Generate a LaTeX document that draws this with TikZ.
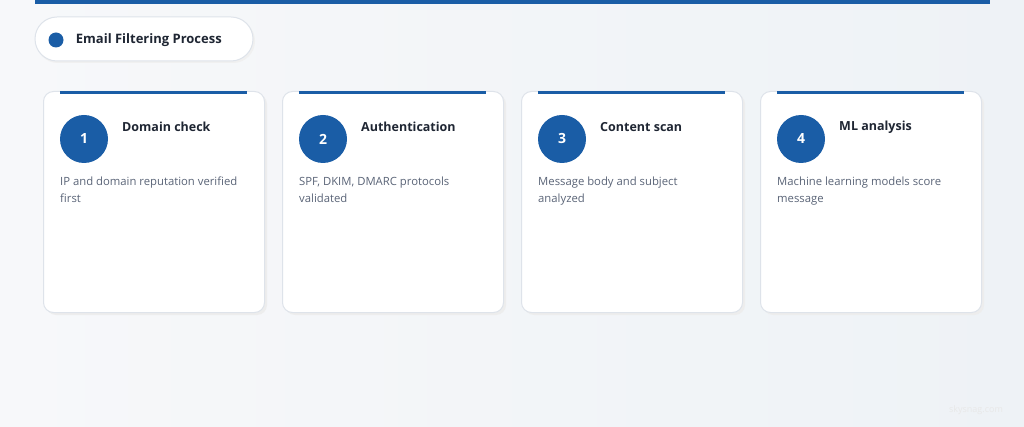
\documentclass[tikz,border=0pt]{standalone}
\usepackage{fontspec}
\setmainfont{Open Sans}
\usetikzlibrary{positioning,calc}

\definecolor{bluemain}{HTML}{1A5DA6}
\definecolor{darktext}{HTML}{1F2633}
\definecolor{greytext}{HTML}{5A6477}
\definecolor{cardline}{HTML}{DEE3EA}
\definecolor{bgleft}{HTML}{F7F8FA}
\definecolor{bgright}{HTML}{EEF2F6}

\tikzset{
  card/.style={draw=cardline, line width=1pt, fill=white, rounded corners=10pt,
    minimum width=221pt, minimum height=221pt, anchor=north west, inner sep=0pt},
  cardshadow/.style={fill=black!7, rounded corners=10pt},
  stepnum/.style={circle, fill=bluemain, minimum size=48pt, inner sep=0pt,
    text=white, font=\bfseries\fontsize{14pt}{16pt}\selectfont},
  stephead/.style={anchor=west, text=darktext, inner sep=0pt,
    font=\bfseries\fontsize{12.5pt}{15pt}\selectfont},
  stepdesc/.style={anchor=north west, align=left, text=greytext, inner sep=0pt,
    font=\fontsize{11.3pt}{16.5pt}\selectfont}
}

\begin{document}
\begin{tikzpicture}[x=1pt,y=-1pt]
    % Background
    \shade[left color=bgleft, right color=bgright] (0,0) rectangle (1024,427);
    \useasboundingbox (0,0) rectangle (1024,427);

    % Top bar
    \fill[bluemain] (35,0) rectangle (990,4);

    % Title pill
    \fill[black!6, rounded corners=22pt] (36,19) rectangle (255,63);
    \node[draw=cardline, line width=1pt, fill=white, rounded corners=22pt,
      minimum width=218pt, minimum height=44pt, inner sep=0pt] (title) at (144,39) {};
    \node[circle, fill=bluemain, minimum size=15pt, inner sep=0pt] (dot) at (56,40) {};
    \node[anchor=west, text=darktext, inner sep=0pt,
      font=\bfseries\fontsize{13pt}{16pt}\selectfont, right=12pt of dot] (titletext) {Email Filtering Process};

    % Step cards
    \foreach \i/\head/\desc in {
        1/Domain check/{IP and domain reputation verified\\first},
        2/Authentication/{SPF, DKIM, DMARC protocols\\validated},
        3/Content scan/{Message body and subject\\analyzed},
        4/ML analysis/{Machine learning models score\\message}} {
      \pgfmathsetmacro{\x}{43+(\i-1)*239}
      \fill[cardshadow] (\x+3,94) rectangle (\x+224,315);
      \node[card] (card\i) at (\x,91) {};
      \fill[bluemain] (\x+17,91) rectangle (\x+204,94);
      \node[stepnum] (num\i) at (\x+41,139) {\i};
      \node[stephead] (head\i) at (\x+79,127) {\head};
      \node[stepdesc] (desc\i) at (\x+17,177) {\desc};
    }

    % Watermark
    \node[text=black!9, inner sep=0pt, font=\fontsize{9pt}{11pt}\selectfont] (mark) at (976,410) {skysnag.com};
\end{tikzpicture}
\end{document}
